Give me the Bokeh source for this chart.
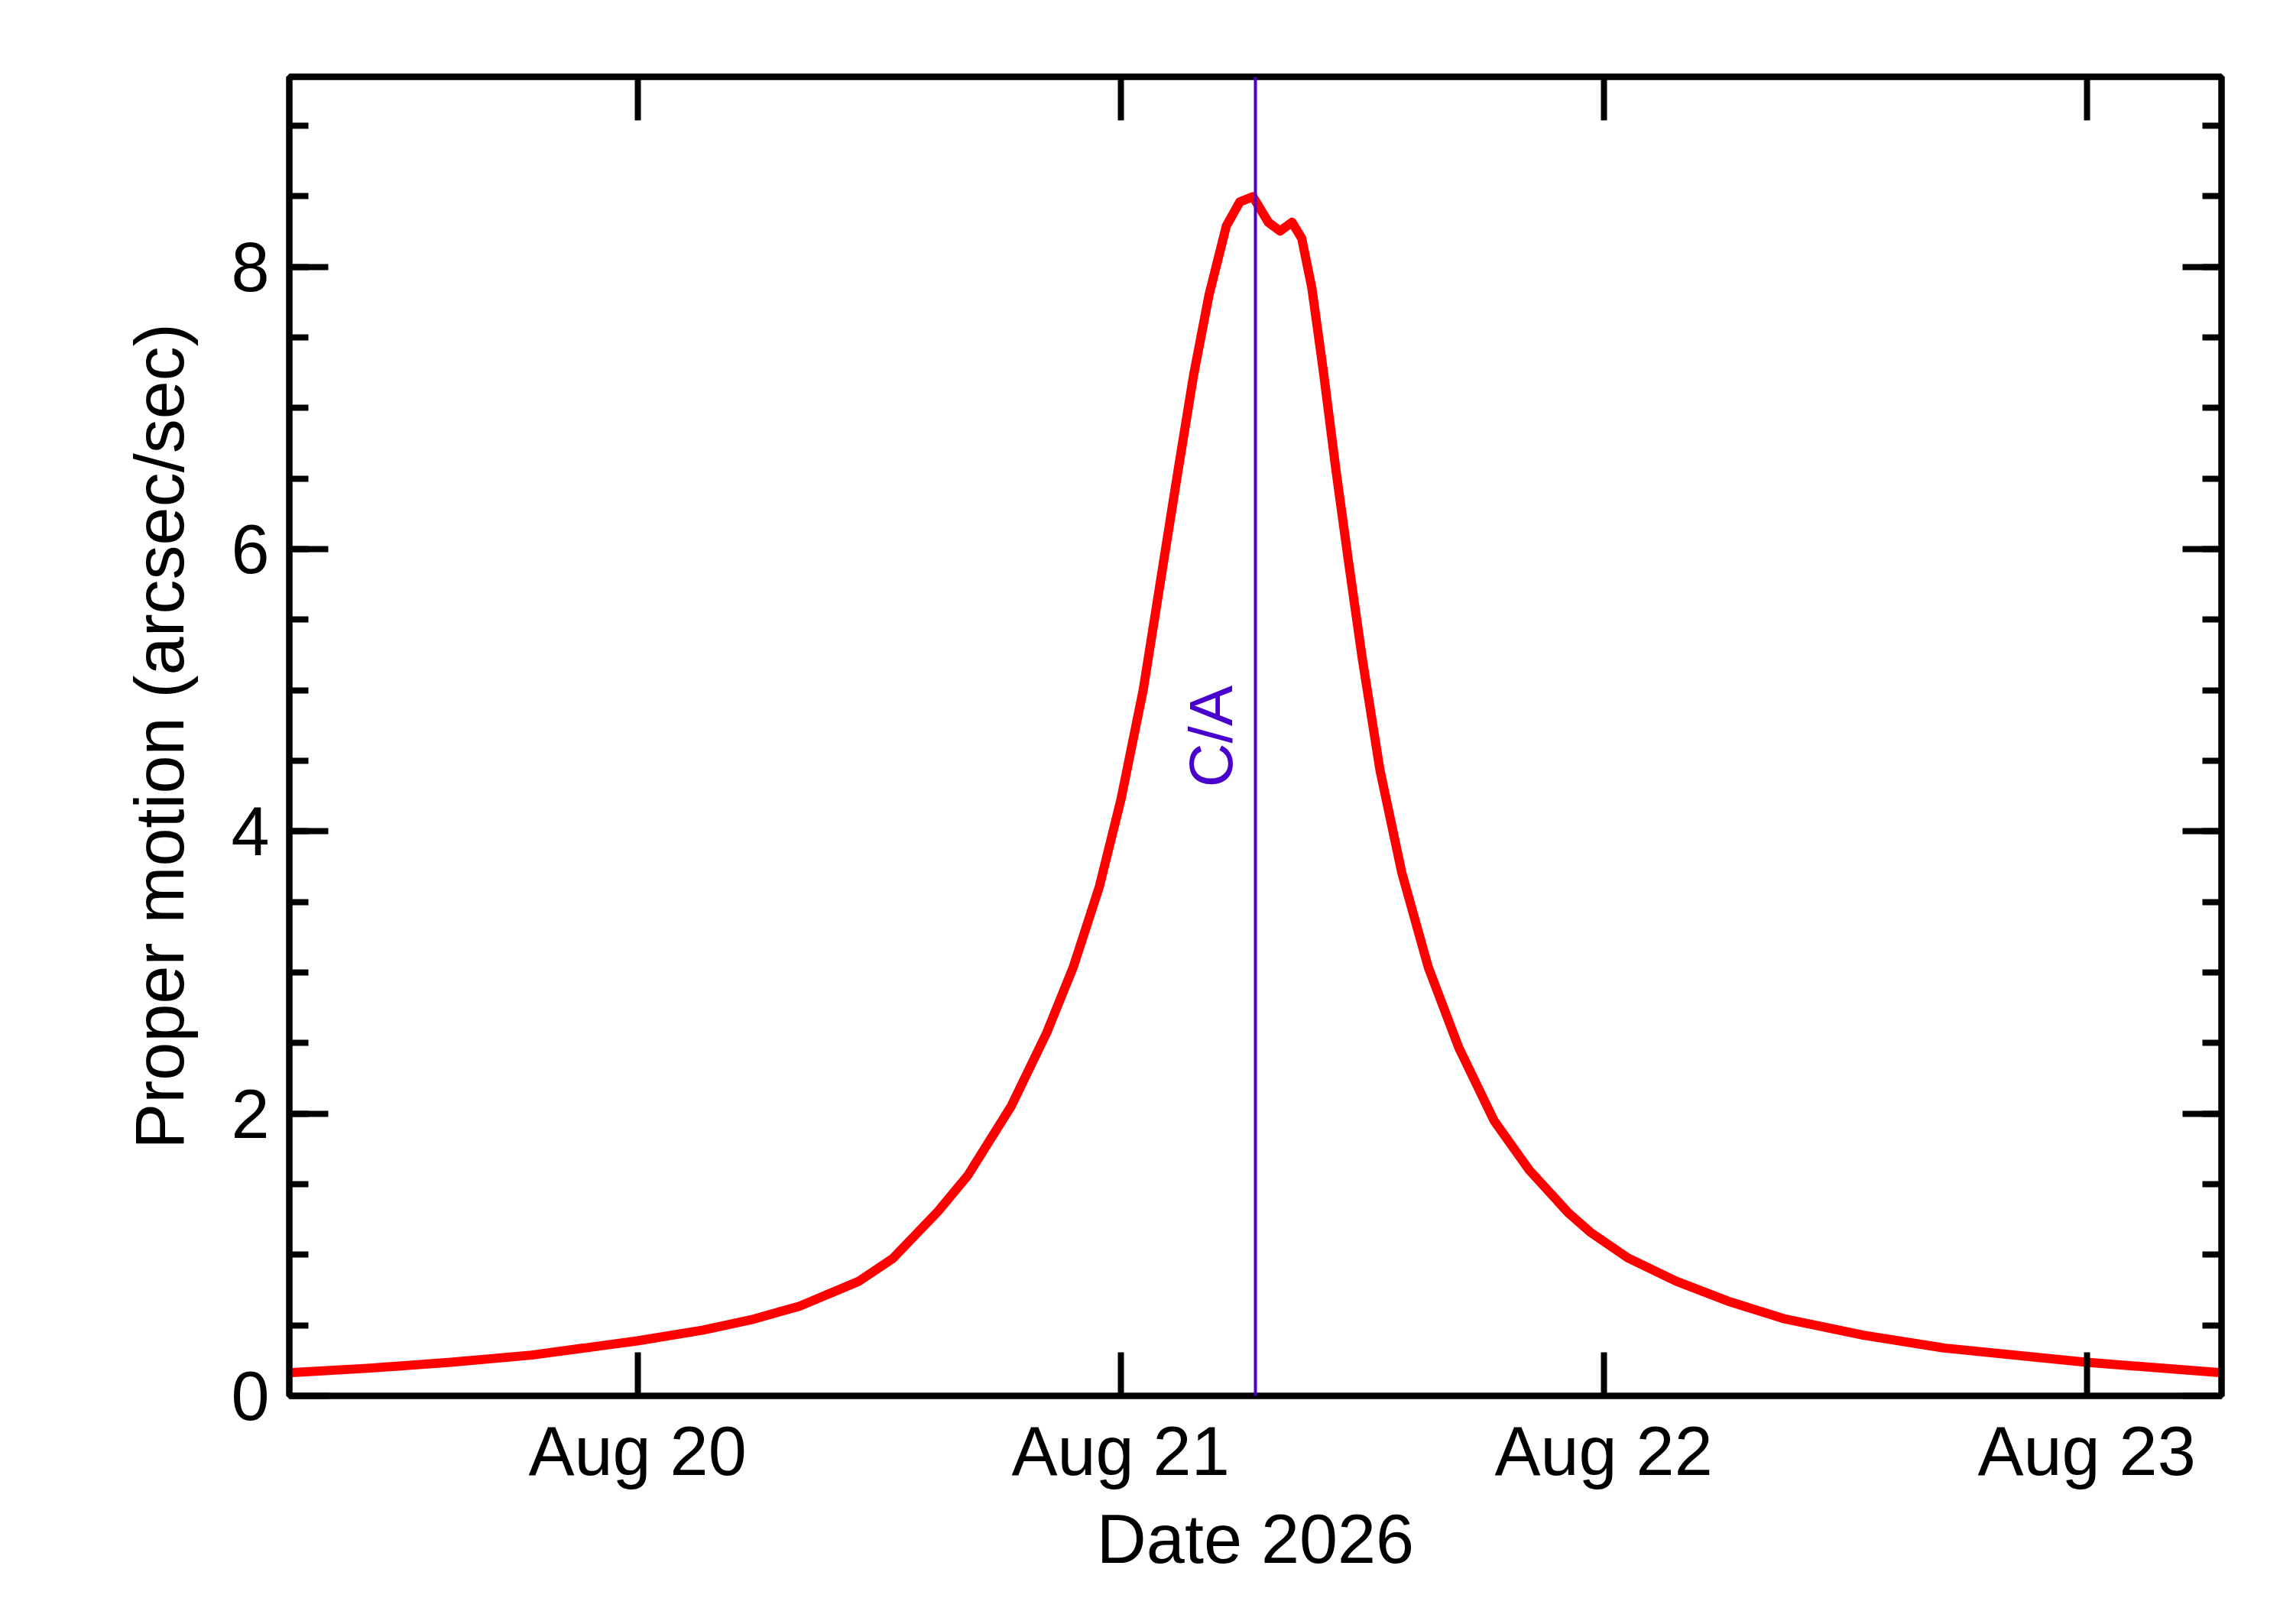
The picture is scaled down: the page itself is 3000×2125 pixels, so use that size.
import math

import pandas as pd
from bokeh.embed import file_html
from bokeh.resources import INLINE
from bokeh.plotting import figure
from bokeh.models import (Range1d, FixedTicker, DatetimeTickFormatter, LinearAxis,
                          Span, Label)

# proper motion vs time
# time in days since 2026-08-20 00:00
t_days = [-0.721, -0.552, -0.386, -0.219, 0.000, 0.136, 0.235, 0.335, 0.457, 0.529,
          0.622, 0.684, 0.774, 0.847, 0.902, 0.956, 1.001, 1.047, 1.083, 1.119,
          1.151, 1.183, 1.219, 1.247, 1.274, 1.306, 1.330, 1.355, 1.375, 1.396,
          1.419, 1.446, 1.473, 1.501, 1.537, 1.582, 1.637, 1.700, 1.773, 1.846,
          1.926, 1.972, 2.050, 2.150, 2.261, 2.372, 2.538, 2.705, 2.999, 3.280]
pm = [0.164, 0.197, 0.238, 0.289, 0.390, 0.466, 0.539, 0.635, 0.810, 0.975,
      1.307, 1.563, 2.055, 2.572, 3.037, 3.607, 4.228, 5.004, 5.780, 6.556,
      7.228, 7.798, 8.289, 8.460, 8.496, 8.315, 8.253, 8.315, 8.201, 7.849,
      7.280, 6.556, 5.883, 5.210, 4.434, 3.710, 3.037, 2.468, 1.951, 1.600,
      1.300, 1.161, 0.978, 0.813, 0.667, 0.548, 0.430, 0.339, 0.238, 0.164]

ca_time = "2026-08-21 06:42"
tick_days = ["2026-08-20", "2026-08-21", "2026-08-22", "2026-08-23"]
y_major = [0, 2, 4, 6, 8]
y_minor = [0.5, 1, 1.5, 2, 2.5, 3, 3.5, 4, 4.5, 5, 5.5, 6, 6.5, 7, 7.5, 8, 8.5, 9]

FONT = "Liberation Sans"


def ms(ts):
    return pd.Timestamp(ts).value / 1e6


base = pd.Timestamp("2026-08-20")
times = base + pd.to_timedelta(t_days, unit="D")
ca = pd.Timestamp(ca_time)
y_max = max(pm) * 1.1

p = figure(width=2984, height=2109, x_axis_type="datetime",
           x_range=Range1d(ms(ca - pd.Timedelta(days=2)), ms(ca + pd.Timedelta(days=2))),
           y_range=Range1d(0, y_max),
           output_backend="svg", toolbar_location=None,
           min_border_left=378, min_border_right=78,
           min_border_top=100, min_border_bottom=283)
p.grid.visible = False
p.outline_line_color = "black"
p.outline_line_width = 8
p.outline_line_alpha = 1.0

xticker = FixedTicker(ticks=[ms(d) for d in tick_days], minor_ticks=[])
yticker = FixedTicker(ticks=y_major, minor_ticks=y_minor)


def style_axis(ax, tick_in):
    ax.axis_line_color = "black"
    ax.axis_line_width = 8
    ax.major_tick_line_color = "black"
    ax.major_tick_line_width = 8
    ax.minor_tick_line_color = "black"
    ax.minor_tick_line_width = 8
    ax.major_tick_in = tick_in
    ax.major_tick_out = 0
    ax.minor_tick_in = 25
    ax.minor_tick_out = 0
    ax.major_label_text_font = FONT
    ax.major_label_text_font_size = "90px"
    ax.major_label_text_color = "black"
    ax.axis_label_text_font = FONT
    ax.axis_label_text_font_size = "90px"
    ax.axis_label_text_font_style = "normal"
    ax.axis_label_text_color = "black"


xa = p.xaxis[0]
xa.ticker = xticker
fmt = "%b %d"
xa.formatter = DatetimeTickFormatter(hours=fmt, days=fmt, months=fmt, years=fmt)
style_axis(xa, 57)
xa.axis_label = "Date 2026"
xa.major_label_standoff = 22
xa.axis_label_standoff = 12

ya = p.yaxis[0]
ya.ticker = yticker
style_axis(ya, 51)
ya.axis_label = "Proper motion (arcsec/sec)"
ya.major_label_standoff = 26
ya.axis_label_standoff = 40

# mirrored axes, ticks only
top = LinearAxis(ticker=xticker)
style_axis(top, 57)
top.major_label_text_font_size = "1px"
top.major_label_text_color = None
p.add_layout(top, "above")

right = LinearAxis(ticker=yticker)
style_axis(right, 51)
right.major_label_text_font_size = "1px"
right.major_label_text_color = None
p.add_layout(right, "right")

p.line(times, pm, line_color="#ff0000", line_width=12, line_join="round")

p.add_layout(Span(location=ms(ca), dimension="height",
                  line_color="#4a00cc", line_width=4))
p.add_layout(Label(x=ms(ca), y=y_max / 2, text="C/A", angle=math.pi / 2,
                   x_offset=-58, text_align="center", text_baseline="alphabetic",
                   text_font=FONT, text_font_size="80px", text_color="#4a00cc"))

open("out.html", "w").write(file_html(p, INLINE))
